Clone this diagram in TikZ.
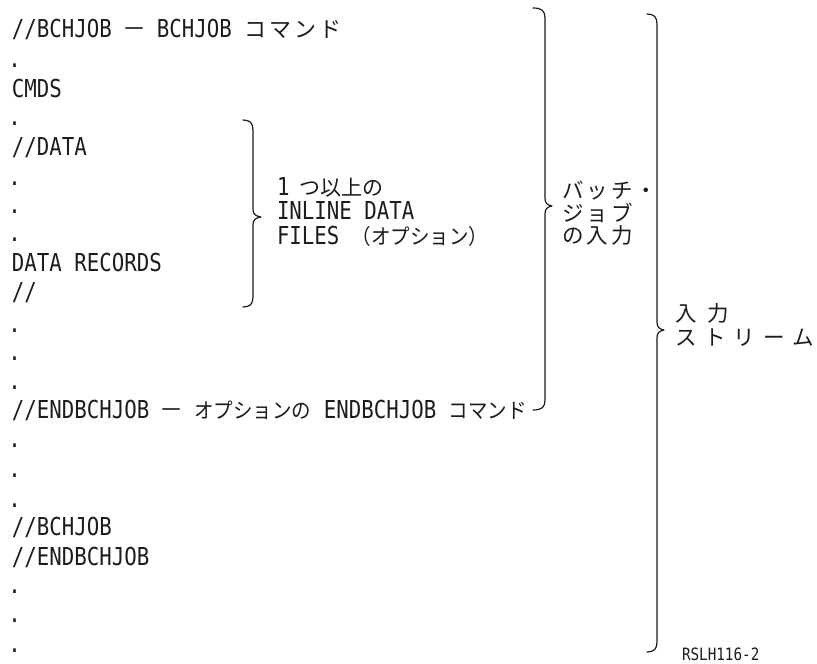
\documentclass[tikz,border=0pt]{standalone}
\usepackage{fontspec}
\setmainfont{DejaVu Sans Mono}[FakeStretch=0.84]
\newfontfamily\jpfont{Noto Sans CJK JP}
\newfontfamily\jpnarrow{Noto Sans CJK JP}[FakeStretch=0.92]
\definecolor{ink}{HTML}{1C1C1C}
\newcommand\LT{\fontsize{24.7pt}{26pt}\selectfont}
\newcommand\J[1]{{\jpnarrow\fontsize{21.2pt}{22pt}\selectfont #1}}
\newcommand\JX[3]{{\jpfont\fontsize{#1pt}{#1pt}\selectfont\addfontfeature{LetterSpace=#2}#3}}
\newcommand\DASH{\makebox[20pt][c]{\jpfont\fontsize{24pt}{24pt}\selectfont －}}
\newcommand\bracepath[6]{%
  \draw[bracestroke] (#1,-#4) .. controls (#2-3,-#4) and (#2,-#4-3) .. (#2,-#4-10)
    -- (#2,-#5+8) .. controls (#2,-#5+3) and (#2+2,-#5+1) .. (#3,-#5)
    .. controls (#2+2,-#5-1) and (#2,-#5-3) .. (#2,-#5-8)
    -- (#2,-#6+10) .. controls (#2,-#6+3) and (#2-3,-#6) .. (#1,-#6);}
\begin{document}
\begin{tikzpicture}[x=1pt,y=1pt,
  txt/.style={anchor=base west, inner sep=0pt, outer sep=0pt, text=ink, font=\LT},
  dotmark/.style={anchor=base west, inner sep=0pt, outer sep=0pt, text=ink, font=\LT},
  bracestroke/.style={draw=ink, line width=1.2pt, line cap=round, line join=round}]
\useasboundingbox (0,0) rectangle (817,-664);
% left column lines
\node[txt] (l1) at (12,-37) {//BCHJOB \DASH{} BCHJOB \JX{22}{14}{コマンド}};
\node[txt] (l2) at (12,-97) {CMDS};
\node[txt] (l3) at (12,-155) {//DATA};
\node[txt] (l4) at (12,-271) {DATA RECORDS};
\node[txt] (l5) at (12,-300) {//};
\node[txt] (l6) at (12,-418) {//ENDBCHJOB \DASH{} \J{オプションの} ENDBCHJOB \J{コマンド}};
\node[txt] (l7) at (12,-535) {//BCHJOB};
\node[txt] (l8) at (12,-565) {//ENDBCHJOB};
% dots
\foreach \yy [count=\i] in {67,125,185,213,241,332,360,389,447,477,507,593,622,652}
  \node[dotmark] (dot\i) at (8.3,-\yy) {.};
% small brace text
\node[txt] (s1) at (277,-195) {1\hspace{10pt}\JX{21}{0}{つ以上の}};
\node[txt] (s2) at (277,-219) {INLINE DATA};
\node[txt] (s3) at (277,-244) {FILES \J{（オプション）}};
% batch job input
\node[txt] (b1) at (562,-198) {\JX{21.5}{14}{バッチ・}};
\node[txt] (b2) at (562,-221) {\JX{21.5}{14}{ジョブ}};
\node[txt] (b3) at (562,-243) {\JX{21.5}{14}{の入力}};
% input stream
\node[txt] (i1) at (675,-321) {\JX{21.5}{49}{入力}};
\node[txt] (i2) at (675,-345) {\JX{21.5}{37}{ストリーム}};
% figure code
\node[txt, font=\fontsize{17pt}{18pt}\selectfont] (code) at (682,-660) {RSLH116-2};
% braces
\bracepath{243}{253}{261}{120}{217}{307}
\bracepath{533}{545}{552}{8}{206}{410}
\bracepath{647}{657}{664}{14}{330}{652}
\end{tikzpicture}
\end{document}
